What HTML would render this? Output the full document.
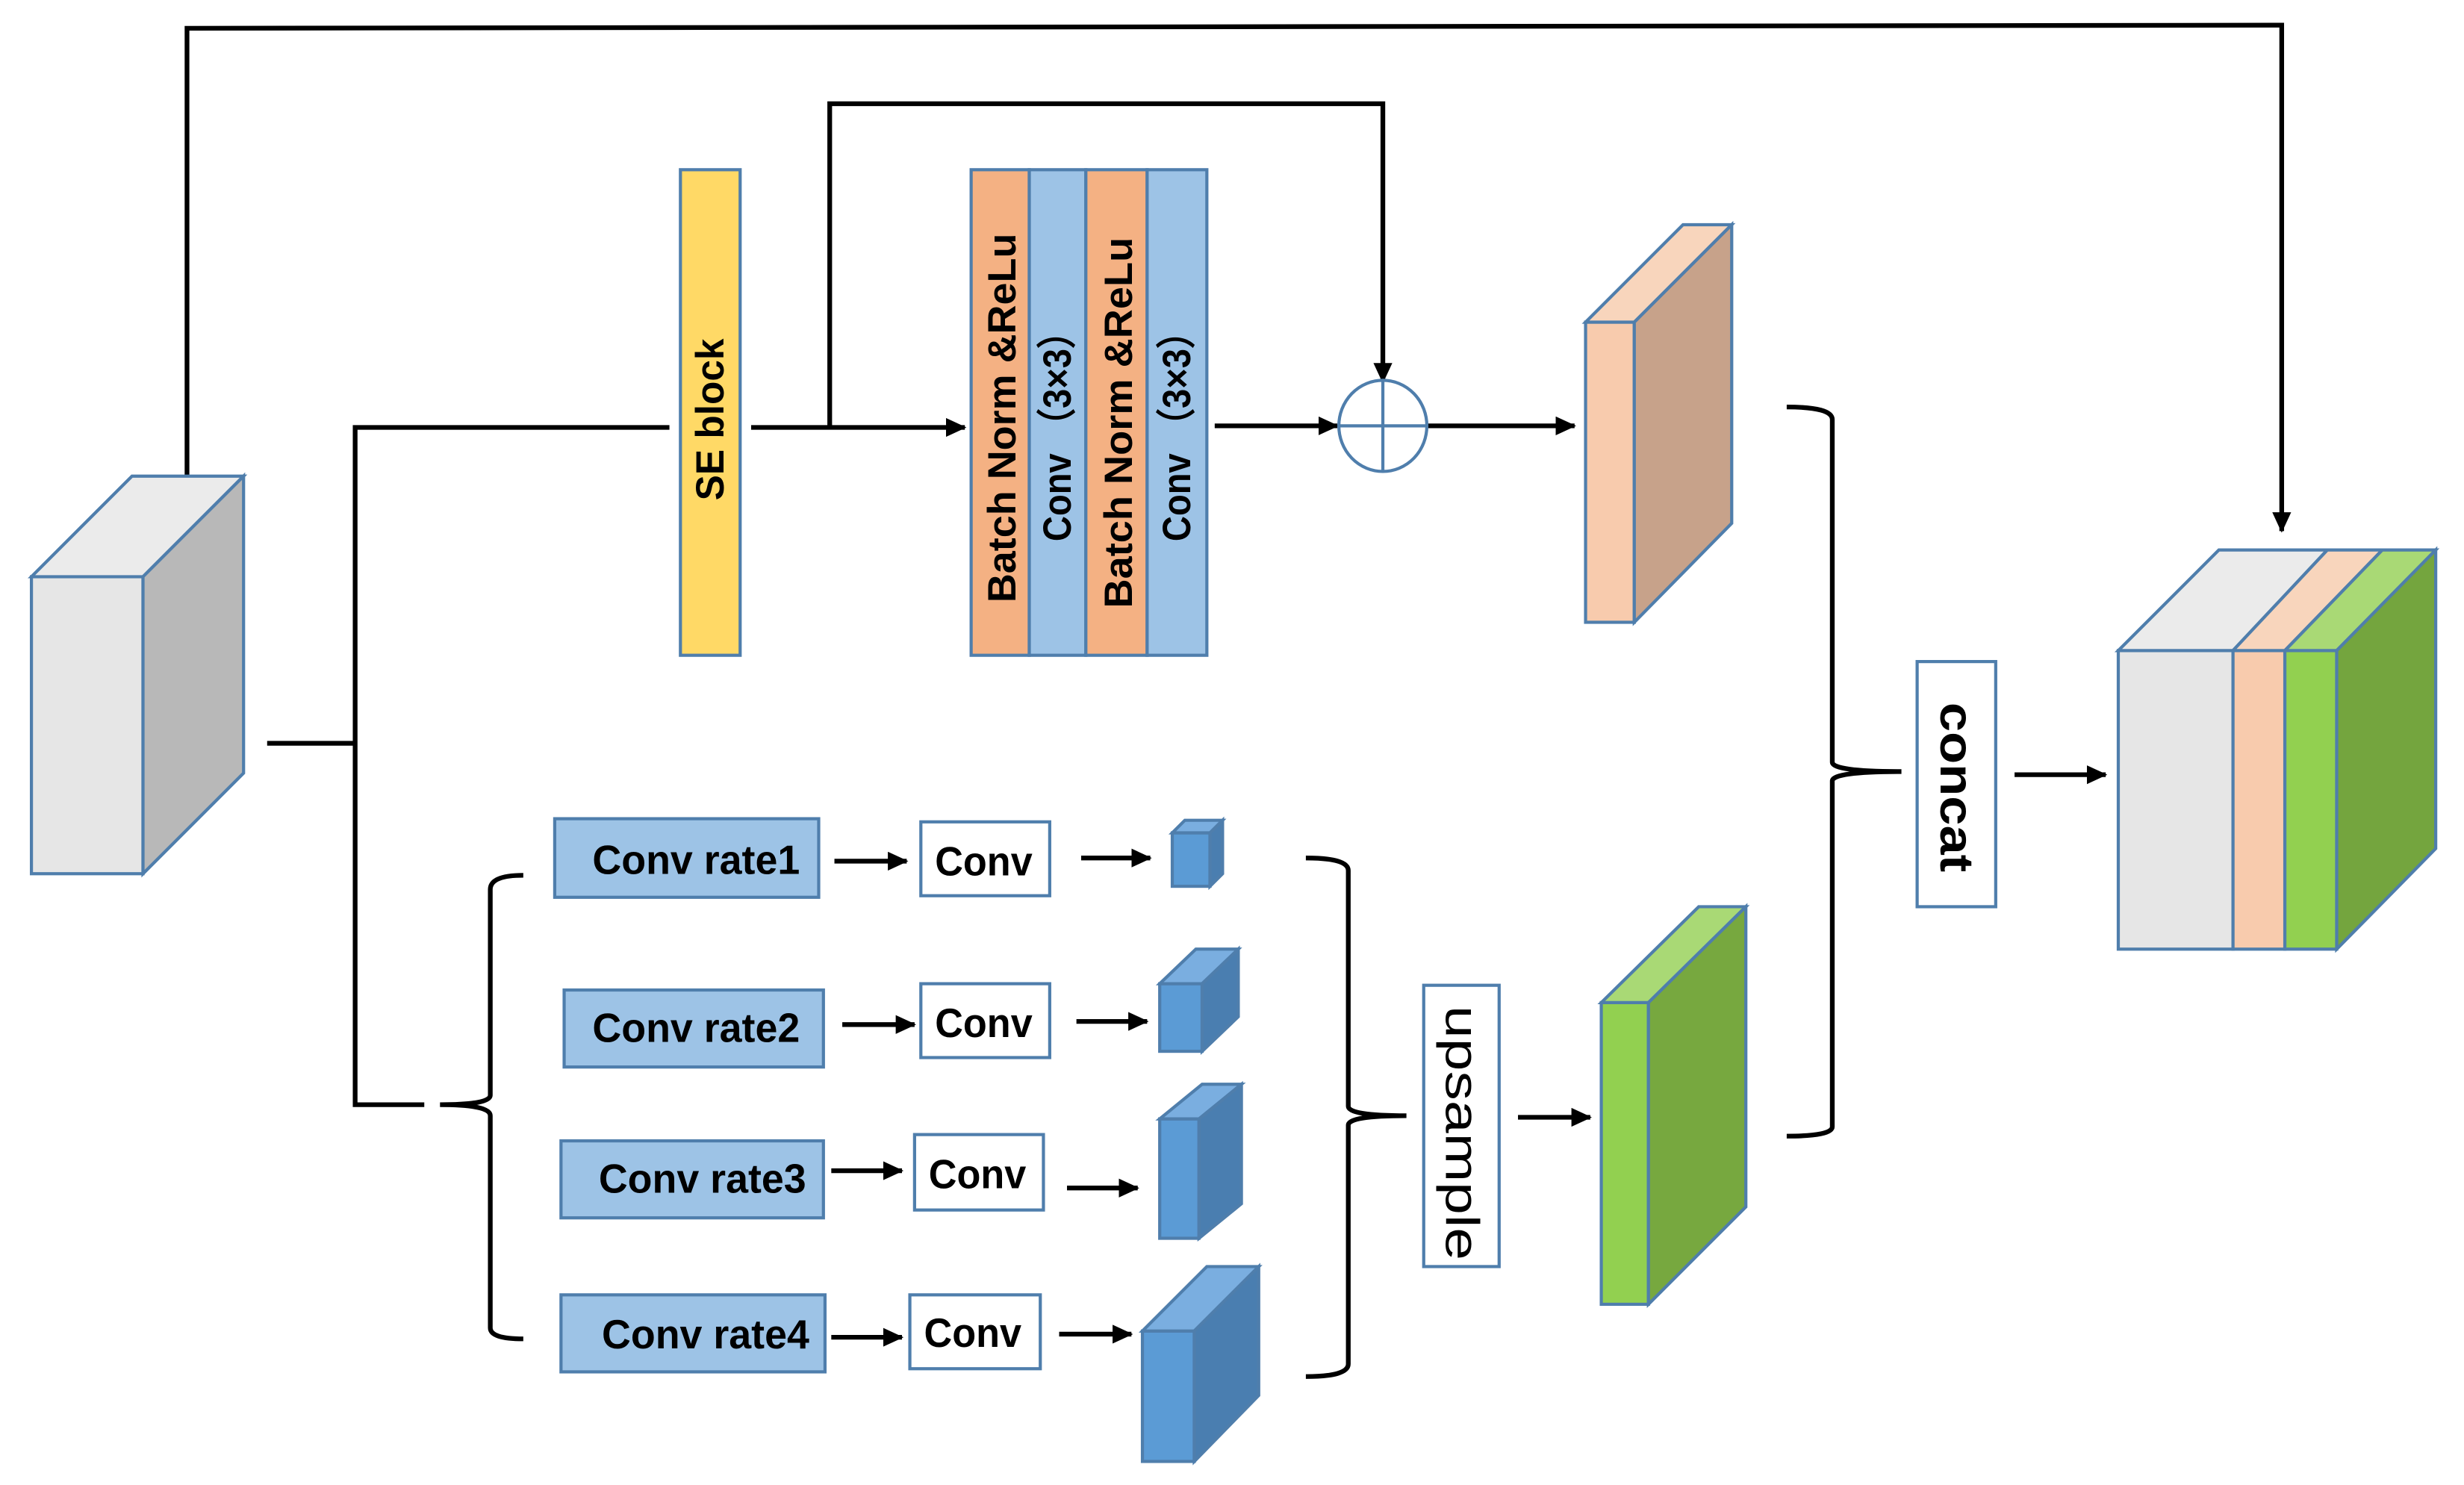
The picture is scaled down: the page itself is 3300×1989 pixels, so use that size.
<!DOCTYPE html>
<html><head><meta charset="utf-8"><style>html,body{margin:0;padding:0;background:#fff}svg{display:block}</style></head><body>
<svg width="3300" height="1989" viewBox="0 0 1568 945" preserveAspectRatio="none" xmlns="http://www.w3.org/2000/svg">
<defs><marker id="a" markerWidth="13" markerHeight="12" refX="12" refY="6" orient="auto" markerUnits="userSpaceOnUse"><path d="M0,0 L13,6 L0,12 z" fill="#000"/></marker></defs>
<g stroke="#000" stroke-width="3" fill="none">
<polyline points="119,303 119,18 1452,16 1452,338" marker-end="url(#a)"/>
<polyline points="528,272 528,66 880,66 880,243" marker-end="url(#a)"/>
<line x1="478" y1="272" x2="614" y2="272" marker-end="url(#a)"/>
<line x1="773" y1="271" x2="851" y2="271" marker-end="url(#a)"/>
<line x1="908" y1="271" x2="1002" y2="271" marker-end="url(#a)"/>
<polyline points="170,473 226,473"/>
<polyline points="426,272 226,272 226,703 270,703"/>
<path d="M333,557 Q312,557 312,566 L312,697 Q312,703 280,703 Q312,703 312,710 L312,845 Q312,852 333,852"/>
<path d="M831,546 Q858,546 858,554 L858,704 Q858,710 895,710 Q858,710 858,716 L858,868 Q858,876 831,876"/>
<path d="M1137,259 Q1166,259 1166,267 L1166,485 Q1166,491 1210,491 Q1166,491 1166,497 L1166,717 Q1166,723 1137,723"/>
<line x1="1282" y1="493" x2="1340" y2="493" marker-end="url(#a)"/>
<line x1="531" y1="548" x2="577" y2="548" marker-end="url(#a)"/>
<line x1="536" y1="652" x2="582" y2="652" marker-end="url(#a)"/>
<line x1="529" y1="745" x2="574" y2="745" marker-end="url(#a)"/>
<line x1="529" y1="851" x2="574" y2="851" marker-end="url(#a)"/>
<line x1="688" y1="546" x2="732" y2="546" marker-end="url(#a)"/>
<line x1="685" y1="650" x2="730" y2="650" marker-end="url(#a)"/>
<line x1="679" y1="756" x2="724" y2="756" marker-end="url(#a)"/>
<line x1="674" y1="849" x2="720" y2="849" marker-end="url(#a)"/>
<line x1="966" y1="711" x2="1012" y2="711" marker-end="url(#a)"/>
</g>
<g stroke="#4f7eac" stroke-width="2">
<rect x="20" y="367" width="71" height="189" fill="#e6e6e6"/>
<polygon points="20,367 84,303 155,303 91,367" fill="#ebebeb"/>
<polygon points="91,367 155,303 155,492 91,556" fill="#b8b8b8"/>
<rect x="433" y="108" width="38" height="309" fill="#ffd966"/>
<rect x="618" y="108" width="37" height="309" fill="#f4b183"/>
<rect x="655" y="108" width="36" height="309" fill="#9dc3e6"/>
<rect x="691" y="108" width="39" height="309" fill="#f4b183"/>
<rect x="730" y="108" width="38" height="309" fill="#9dc3e6"/>
<ellipse cx="880" cy="271" rx="28" ry="29" fill="#fff"/>
<line x1="852" y1="271" x2="908" y2="271"/><line x1="880" y1="242" x2="880" y2="300"/>
<rect x="1009" y="205" width="31" height="191" fill="#f8cbad"/>
<polygon points="1009,205 1071,143 1102,143 1040,205" fill="#f8d5bc"/>
<polygon points="1040,205 1102,143 1102,333 1040,396" fill="#c7a28a"/>
<rect x="1220" y="421" width="50" height="156" fill="#fff"/>
<rect x="1348" y="414" width="73" height="190" fill="#e6e6e6"/>
<rect x="1421" y="414" width="33" height="190" fill="#f8cbad"/>
<rect x="1454" y="414" width="33" height="190" fill="#92d050"/>
<polygon points="1348,414 1412,350 1481,350 1421,414" fill="#ebebeb"/>
<polygon points="1421,414 1481,350 1516,350 1454,414" fill="#f8d5bc"/>
<polygon points="1454,414 1516,350 1550,350 1487,414" fill="#a9d975"/>
<polygon points="1487,414 1550,350 1550,540 1487,604" fill="#74a53e"/>
<rect x="353" y="521" width="168" height="50" fill="#9dc3e6"/>
<rect x="359" y="630" width="165" height="49" fill="#9dc3e6"/>
<rect x="357" y="726" width="167" height="49" fill="#9dc3e6"/>
<rect x="357" y="824" width="168" height="49" fill="#9dc3e6"/>
<rect x="586" y="523" width="82" height="47" fill="#fff"/>
<rect x="586" y="626" width="82" height="47" fill="#fff"/>
<rect x="582" y="722" width="82" height="48" fill="#fff"/>
<rect x="579" y="824" width="83" height="47" fill="#fff"/>
<rect x="746" y="530" width="24" height="34" fill="#5b9bd5"/>
<polygon points="746,530 754,522 778,522 770,530" fill="#7aaee0"/>
<polygon points="770,530 778,522 778,556 770,564" fill="#4a7eb0"/>
<rect x="738" y="626" width="27" height="43" fill="#5b9bd5"/>
<polygon points="738,626 761,604 788,604 765,626" fill="#7aaee0"/>
<polygon points="765,626 788,604 788,647 765,669" fill="#4a7eb0"/>
<rect x="738" y="712" width="25" height="76" fill="#5b9bd5"/>
<polygon points="738,712 765,690 790,690 763,712" fill="#7aaee0"/>
<polygon points="763,712 790,690 790,766 763,788" fill="#4a7eb0"/>
<rect x="727" y="847" width="33" height="83" fill="#5b9bd5"/>
<polygon points="727,847 768,806 801,806 760,847" fill="#7aaee0"/>
<polygon points="760,847 801,806 801,888 760,930" fill="#4a7eb0"/>
<rect x="906" y="627" width="48" height="179" fill="#fff"/>
<rect x="1019" y="638" width="30" height="192" fill="#92d050"/>
<polygon points="1019,638 1081,577 1111,577 1049,638" fill="#a9d975"/>
<polygon points="1049,638 1111,577 1111,768 1049,830" fill="#77a83f"/>
</g>
<g font-family="Liberation Sans, sans-serif" font-weight="bold" fill="#000" text-anchor="middle" dominant-baseline="central">
<text transform="translate(452,267) rotate(-90)" font-size="25" textLength="103" lengthAdjust="spacingAndGlyphs">SE block</text>
<text transform="translate(638,266) rotate(-90)" font-size="25" textLength="235" lengthAdjust="spacingAndGlyphs">Batch Norm &amp;ReLu</text>
<text transform="translate(673,272) rotate(-90)" font-size="25" textLength="145" lengthAdjust="spacingAndGlyphs">Conv （3×3）</text>
<text transform="translate(712,269) rotate(-90)" font-size="25" textLength="236" lengthAdjust="spacingAndGlyphs">Batch Norm &amp;ReLu</text>
<text transform="translate(749,272) rotate(-90)" font-size="25" textLength="145" lengthAdjust="spacingAndGlyphs">Conv （3×3）</text>
<text transform="translate(1245,501) rotate(90)" font-size="30" textLength="108" lengthAdjust="spacingAndGlyphs">concat</text>
<text transform="translate(930,721) rotate(90)" font-size="30" font-weight="normal" textLength="162" lengthAdjust="spacingAndGlyphs">upsample</text>
</g>
<g font-family="Liberation Sans, sans-serif" font-weight="bold" font-size="26" fill="#000" text-anchor="middle" dominant-baseline="central">
<text x="443" y="547" textLength="132" lengthAdjust="spacingAndGlyphs">Conv rate1</text>
<text x="443" y="654" textLength="132" lengthAdjust="spacingAndGlyphs">Conv rate2</text>
<text x="447" y="750" textLength="132" lengthAdjust="spacingAndGlyphs">Conv rate3</text>
<text x="449" y="849" textLength="132" lengthAdjust="spacingAndGlyphs">Conv rate4</text>
<text x="626" y="548" textLength="62" lengthAdjust="spacingAndGlyphs">Conv</text>
<text x="626" y="651" textLength="62" lengthAdjust="spacingAndGlyphs">Conv</text>
<text x="622" y="747" textLength="62" lengthAdjust="spacingAndGlyphs">Conv</text>
<text x="619" y="848" textLength="62" lengthAdjust="spacingAndGlyphs">Conv</text>
</g>
</svg>
</body></html>
